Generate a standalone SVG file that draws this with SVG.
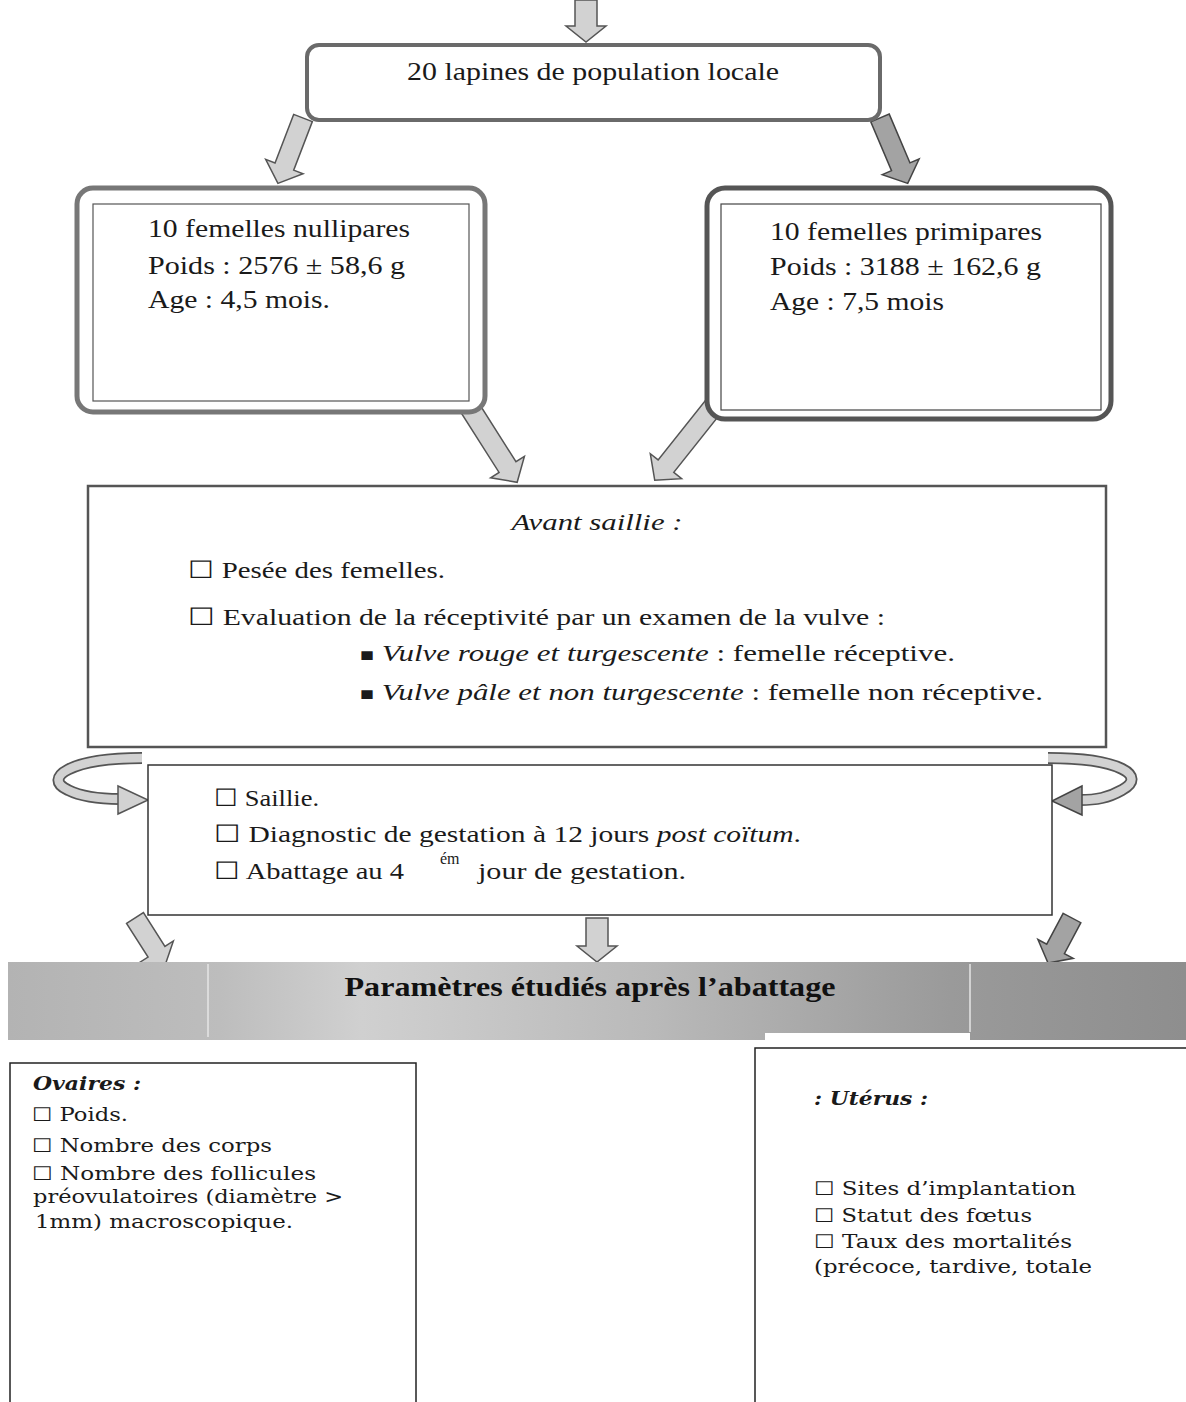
<svg xmlns="http://www.w3.org/2000/svg" width="1186" height="1402" viewBox="0 0 1186 1402">
<style>
.arr{fill:#d2d2d2;stroke:#555;stroke-width:1.5;stroke-linejoin:miter}
.arrd{fill:#a3a3a3;stroke:#444;stroke-width:1.5}
.band-o{fill:none;stroke:#555;stroke-width:12;stroke-linecap:butt}
.band-i{fill:none;stroke:#d2d2d2;stroke-width:8.5;stroke-linecap:butt}
</style>
<defs>
<linearGradient id="ban" x1="0" y1="0" x2="1" y2="0">
<stop offset="0" stop-color="#b3b3b3"/>
<stop offset="0.18" stop-color="#bdbdbd"/>
<stop offset="0.3" stop-color="#d0d0d0"/>
<stop offset="0.55" stop-color="#b9b9b9"/>
<stop offset="0.8" stop-color="#9a9a9a"/>
<stop offset="1" stop-color="#8e8e8e"/>
</linearGradient>
</defs>
<rect width="1186" height="1402" fill="#ffffff"/>

<g id="connectors">
<polygon class="arr" transform="translate(586,0)" points="-11,0 11,0 11,26 20,26 0,42 -20,26 -11,26"/>
<polygon class="arr" transform="translate(303,118) rotate(21)" points="-10,0 10,0 10,52 20,52 0,70 -20,52 -10,52"/>
<polygon class="arrd" transform="translate(880,118) rotate(-23)" points="-10,0 10,0 10,53 20,53 0,71 -20,53 -10,53"/>
<polygon class="arr" transform="translate(470,408) rotate(-32.4)" points="-10,0 10,0 10,70 20,70 0,88 -20,70 -10,70"/>
<polygon class="arr" transform="translate(717,402) rotate(38.5)" points="-10,0 10,0 10,82 20,82 0,100 -20,82 -10,82"/>
<path class="band-o" d="M 142 758 C 70 758, 42 778, 68 790 C 82 797, 100 799, 120 799"/>
<path class="band-i" d="M 142 758 C 70 758, 42 778, 68 790 C 82 797, 100 799, 120 799"/>
<polygon class="arr" points="118,786 148,800 118,814"/>
<path class="band-o" d="M 1048 758 C 1120 758, 1148 776, 1122 790 C 1108 798, 1096 800, 1080 800"/>
<path class="band-i" d="M 1048 758 C 1120 758, 1148 776, 1122 790 C 1108 798, 1096 800, 1080 800"/>
<polygon class="arrd" points="1082,786 1052,801 1082,815"/>
<polygon class="arr" transform="translate(135,918) rotate(-32.5)" points="-10,0 10,0 10,40 20,40 0,56 -20,40 -10,40"/>
<polygon class="arr" transform="translate(597,918)" points="-11,0 11,0 11,28 20,28 0,44 -20,28 -11,28"/>
<polygon class="arrd" transform="translate(1072,918) rotate(28)" points="-10,0 10,0 10,35 20,35 0,51 -20,35 -10,35"/>
</g>

<g id="node-top" font-family="'Liberation Serif', 'Times New Roman', serif" fill="#1a1a1a">
<rect x="307" y="45" width="573" height="75" rx="12" fill="#fff" stroke="#6a6a6a" stroke-width="4"/>
<text x="593" y="80" font-size="25" text-anchor="middle" textLength="372" lengthAdjust="spacingAndGlyphs">20 lapines de population locale</text>
</g>

<g id="node-nullipares" font-family="'Liberation Serif', 'Times New Roman', serif" fill="#1a1a1a">
<rect x="77" y="188" width="408" height="224" rx="16" fill="#fff" stroke="#777" stroke-width="5"/>
<rect x="93" y="204" width="376" height="197" fill="none" stroke="#555" stroke-width="1.2"/>
<text x="148" y="237" font-size="26" textLength="262" lengthAdjust="spacingAndGlyphs">10 femelles nullipares</text>
<text x="148" y="274" font-size="26" textLength="257" lengthAdjust="spacingAndGlyphs">Poids : 2576 ± 58,6 g</text>
<text x="148" y="308" font-size="26" textLength="182" lengthAdjust="spacingAndGlyphs">Age : 4,5 mois.</text>
</g>

<g id="node-primipares" font-family="'Liberation Serif', 'Times New Roman', serif" fill="#1a1a1a">
<rect x="707" y="188" width="404" height="231" rx="18" fill="#fff" stroke="#555" stroke-width="5"/>
<rect x="721" y="204" width="380" height="206" fill="none" stroke="#444" stroke-width="1.2"/>
<text x="770" y="240" font-size="26" textLength="272" lengthAdjust="spacingAndGlyphs">10 femelles primipares</text>
<text x="770" y="275" font-size="26" textLength="271" lengthAdjust="spacingAndGlyphs">Poids : 3188 ± 162,6 g</text>
<text x="770" y="310" font-size="26" textLength="174" lengthAdjust="spacingAndGlyphs">Age : 7,5 mois</text>
</g>

<g id="node-avant-saillie" font-family="'Liberation Serif', 'Times New Roman', serif" fill="#1a1a1a">
<rect x="88" y="486" width="1018" height="261" fill="#fff" stroke="#555" stroke-width="2.5"/>
<text x="597" y="530" font-size="24" font-style="italic" text-anchor="middle" textLength="171" lengthAdjust="spacingAndGlyphs">Avant saillie :</text>
<text x="188" y="578" font-size="24" textLength="257" lengthAdjust="spacingAndGlyphs">☐ Pesée des femelles.</text>
<text x="188" y="625" font-size="24" textLength="697" lengthAdjust="spacingAndGlyphs">☐ Evaluation de la réceptivité par un examen de la vulve :</text>
<text x="360" y="661" font-size="24" textLength="595" lengthAdjust="spacingAndGlyphs"><tspan font-size="18">■</tspan> <tspan font-style="italic">Vulve rouge et turgescente</tspan> : femelle réceptive.</text>
<text x="360" y="700" font-size="24" textLength="683" lengthAdjust="spacingAndGlyphs"><tspan font-size="18">■</tspan> <tspan font-style="italic">Vulve pâle et non turgescente</tspan> : femelle non réceptive.</text>
</g>

<g id="node-saillie" font-family="'Liberation Serif', 'Times New Roman', serif" fill="#1a1a1a">
<rect x="148" y="765" width="904" height="150" fill="#fff" stroke="#333" stroke-width="1.5"/>
<text x="214" y="806" font-size="24" textLength="105" lengthAdjust="spacingAndGlyphs">☐ Saillie.</text>
<text x="214" y="842" font-size="24" textLength="587" lengthAdjust="spacingAndGlyphs">☐ Diagnostic de gestation à 12 jours <tspan font-style="italic">post coïtum</tspan>.</text>
<text x="214" y="879" font-size="24" textLength="190" lengthAdjust="spacingAndGlyphs">☐ Abattage au 4</text>
<text x="440" y="864" font-size="16">ém</text>
<text x="478" y="879" font-size="24" textLength="208" lengthAdjust="spacingAndGlyphs">jour de gestation.</text>
</g>

<g id="node-banner" font-family="'Liberation Serif', 'Times New Roman', serif">
<rect x="8" y="962" width="1178" height="78" fill="url(#ban)"/>
<line x1="208" y1="964" x2="208" y2="1037" stroke="#e6e6e6" stroke-width="1.5"/>
<line x1="970" y1="964" x2="970" y2="1032" stroke="#e6e6e6" stroke-width="1.5"/>
<rect x="765" y="1033" width="205" height="8" fill="#fff"/>
<text x="590" y="996" font-size="27" font-weight="bold" text-anchor="middle" textLength="491" lengthAdjust="spacingAndGlyphs" fill="#111">Paramètres étudiés après l’abattage</text>
</g>

<g id="node-ovaires" font-family="'DejaVu Serif', 'Liberation Serif', serif" fill="#1a1a1a">
<rect x="10" y="1063" width="406" height="345" fill="#fff" stroke="#222" stroke-width="1.5"/>
<text x="33" y="1090" font-size="18" font-weight="bold" font-style="italic" textLength="108" lengthAdjust="spacingAndGlyphs">Ovaires :</text>
<text x="32" y="1121" font-size="19" textLength="96" lengthAdjust="spacingAndGlyphs">☐ Poids.</text>
<text x="32" y="1152" font-size="19" textLength="240" lengthAdjust="spacingAndGlyphs">☐ Nombre des corps</text>
<text x="32" y="1180" font-size="19" textLength="284" lengthAdjust="spacingAndGlyphs">☐ Nombre des follicules</text>
<text x="33" y="1203" font-size="19" textLength="310" lengthAdjust="spacingAndGlyphs">préovulatoires (diamètre &gt;</text>
<text x="35" y="1228" font-size="19" textLength="258" lengthAdjust="spacingAndGlyphs">1mm) macroscopique.</text>
</g>

<g id="node-uterus" font-family="'DejaVu Serif', 'Liberation Serif', serif" fill="#1a1a1a">
<rect x="755" y="1048" width="440" height="360" fill="#fff" stroke="#222" stroke-width="1.5"/>
<text x="814" y="1105" font-size="18" font-weight="bold" font-style="italic" textLength="114" lengthAdjust="spacingAndGlyphs">: Utérus :</text>
<text x="814" y="1195" font-size="19" textLength="262" lengthAdjust="spacingAndGlyphs">☐ Sites d’implantation</text>
<text x="814" y="1222" font-size="19" textLength="218" lengthAdjust="spacingAndGlyphs">☐ Statut des fœtus</text>
<text x="814" y="1248" font-size="19" textLength="258" lengthAdjust="spacingAndGlyphs">☐ Taux des mortalités</text>
<text x="814" y="1273" font-size="19" textLength="278" lengthAdjust="spacingAndGlyphs">(précoce, tardive, totale</text>
</g>
</svg>
